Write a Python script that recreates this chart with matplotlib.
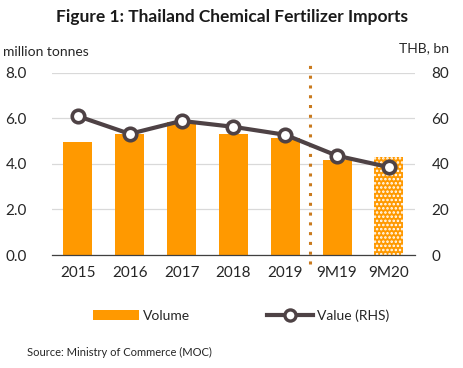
import matplotlib
matplotlib.use("Agg")
import matplotlib.pyplot as plt
from matplotlib.lines import Line2D
from matplotlib.patches import Patch

plt.rcParams['font.family'] = ['Lato', 'DejaVu Sans']
plt.rcParams['hatch.linewidth'] = 1.2

categories = ['2015', '2016', '2017', '2018', '2019', '9M19', '9M20']
volume = [4.97, 5.33, 5.85, 5.32, 5.15, 4.18, 4.30]
value = [61.0, 53.2, 58.9, 56.3, 52.8, 43.6, 38.6]
left_ticks = [0.0, 2.0, 4.0, 6.0, 8.0]
right_ticks = [0, 20, 40, 60, 80]

orange = '#FF9900'
line_col = '#4E4245'
txt = '#262626'

fig = plt.figure(figsize=(4.64, 3.68), dpi=100)
ax = fig.add_axes([0.112, 0.307, 0.782, 0.495])
ax2 = ax.twinx()

x = list(range(len(categories)))
bars = ax.bar(x, volume, width=0.56, color=orange, linewidth=0, zorder=2)
bars[-1].set_hatch('....')
bars[-1].set_edgecolor('white')

ax.set_xlim(-0.5, len(categories) - 0.5)
ax.set_ylim(0, 8)
ax.set_yticks(left_ticks)
ax.set_yticklabels([f'{t:.1f}' for t in left_ticks])
ax.grid(axis='y', color='#D9D9D9', linewidth=0.9, zorder=0)
ax.set_axisbelow(True)
for s in ['top', 'right', 'left']:
    ax.spines[s].set_visible(False)
ax.spines['bottom'].set_color('#404040')
ax.spines['bottom'].set_linewidth(0.9)
ax.set_xticks(x)
ax.set_xticklabels(categories)
ax.tick_params(axis='both', length=0, labelsize=11, colors=txt, pad=8)
ax.tick_params(axis='y', pad=18)

ax2.plot(x, value, color=line_col, linewidth=3, marker='o', markersize=9,
         markerfacecolor='white', markeredgecolor=line_col, markeredgewidth=2.6,
         zorder=5)
ax2.set_ylim(0, 80)
ax2.set_yticks(right_ticks)
for s in ['top', 'right', 'left', 'bottom']:
    ax2.spines[s].set_visible(False)
ax2.tick_params(axis='y', length=0, labelsize=11, colors=txt, pad=12)

# dotted separator
ax.add_line(Line2D([4.47, 4.47], [-0.05, 1.05], transform=ax.get_xaxis_transform(),
                   color='#C97A1E', linestyle=(0, (1, 2.2)), linewidth=2.2,
                   clip_on=False, zorder=6))

fig.text(0.5, 0.955, 'Figure 1: Thailand Chemical Fertilizer Imports',
         ha='center', va='center', fontsize=12.5, fontweight='bold', color='#1a1a1a')
fig.text(0.006, 0.858, 'million tonnes', ha='left', va='center', fontsize=10, color=txt)
fig.text(0.968, 0.868, 'THB, bn', ha='right', va='center', fontsize=10, color=txt)

handles = [Patch(facecolor=orange, edgecolor='none'),
           Line2D([0], [0], color=line_col, linewidth=3, marker='o', markersize=8,
                  markerfacecolor='white', markeredgecolor=line_col, markeredgewidth=2.4)]
fig.legend(handles, ['Volume', 'Value (RHS)'], loc='center', bbox_to_anchor=(0.52, 0.142),
           ncol=2, frameon=False, fontsize=10, handlelength=3.3, handletextpad=0.3,
           columnspacing=5.5, labelcolor=txt)

fig.text(0.058, 0.042, 'Source: Ministry of Commerce (MOC)', ha='left', va='center',
         fontsize=8, color=txt)

fig.savefig('out.png', dpi=100, facecolor='white')
